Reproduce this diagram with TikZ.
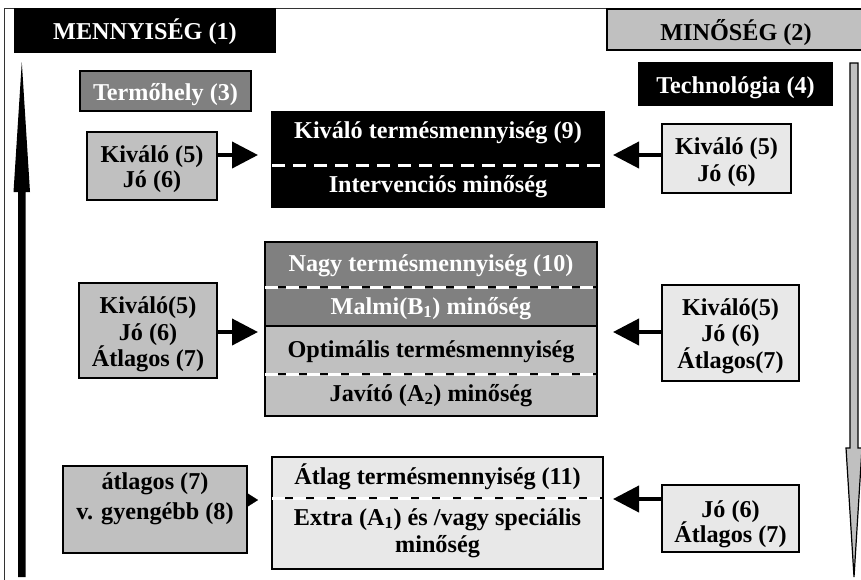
\documentclass[tikz,border=0pt]{standalone}
\usepackage{fontspec}
\setmainfont{Liberation Serif}
\usetikzlibrary{arrows.meta}
\definecolor{dgray}{HTML}{808080}
\definecolor{mgray}{HTML}{C0C0C0}
\definecolor{lgray}{HTML}{E8E8E8}
\begin{document}
\begin{tikzpicture}[x=1pt,y=-1pt,
  box/.style={draw=black, line width=1.3pt, inner sep=0pt, outer sep=0pt},
  txt/.style={font=\fontsize{24.2}{26}\selectfont\bfseries, inner sep=0pt, anchor=base},
  wtxt/.style={txt, text=white},
  sep/.style={draw=white, line width=3pt, dash pattern=on 13pt off 8pt},
  arr/.style={line width=4pt, -{Triangle[length=26pt,width=26pt]}},
  smallarr/.style={line width=0.1pt, -{Triangle[length=11pt,width=14pt]}},
]
\useasboundingbox (0,0) rectangle (861,579);
\clip (0,0) rectangle (861,579);
\fill[white] (0,0) rectangle (861,579);
% frame
\draw[line width=1.3pt, black!80] (4.5,580) -- (4.5,8.5) -- (862,8.5);

% headers
\node[box, fill=black, minimum width=260pt, minimum height=43pt] (m1) at (145,30.5) {};
\node[wtxt] (m1t) at (145,39) {MENNYISÉG (1)};
\node[box, line width=2pt, fill=mgray, minimum width=259pt, minimum height=41pt] (m2) at (736.5,29.5) {};
\node[txt] (m2t) at (736,40) {MINŐSÉG (2)};
\node[box, fill=dgray, minimum width=171pt, minimum height=40pt] (t3) at (165.5,91) {};
\node[wtxt] (t3t) at (165.5,100) {Termőhely (3)};
\node[box, fill=black, minimum width=193pt, minimum height=42pt] (t4) at (735.5,84) {};
\node[wtxt] (t4t) at (735.5,93) {Technológia (4)};

% vertical arrows
\fill[black] (18,577) -- (18,192) -- (13.5,192) -- (21.8,62) -- (30,192) -- (25.5,192) -- (25.5,577) -- cycle;
\filldraw[fill=mgray, draw=black, line width=1.2pt] (850,63) -- (850,448) -- (846,448) -- (854,577) -- (862,448) -- (858,448) -- (858,63) -- cycle;

% row 1
\node[box, fill=black, minimum width=332pt, minimum height=95pt] (b9) at (438,159.5) {};
\node[wtxt] (b9a) at (438,138) {Kiváló termésmennyiség (9)};
\node[wtxt] (b9b) at (438,192) {Intervenciós minőség};
\coordinate (d1) at (0,165);
\draw[sep] (b9.west |- d1) -- (b9.east |- d1);
\node[box, fill=mgray, minimum width=130pt, minimum height=68pt] (lb1) at (152,166) {};
\node[txt] (lb1a) at (152,162) {Kiváló (5)};
\node[txt] (lb1b) at (152,187) {Jó (6)};
\node[box, fill=lgray, minimum width=129pt, minimum height=69pt] (rb1) at (726.5,158.5) {};
\node[txt] (rb1a) at (726.5,154) {Kiváló (5)};
\node[txt] (rb1b) at (726.5,181) {Jó (6)};
\coordinate (a1) at (0,155);
\draw[arr, shorten >=14pt] (lb1.east |- a1) -- (b9.west |- a1);
\draw[arr, shorten >=9pt] (rb1.west |- a1) -- (b9.east |- a1);

% row 2
\node[box, fill=dgray, minimum width=332pt, minimum height=45pt] (n10) at (431,264.5) {};
\node[wtxt] (n10t) at (431,271) {Nagy termésmennyiség (10)};
\node[box, fill=dgray, minimum width=332pt, minimum height=39pt] (nm) at (431,306.5) {};
\node[wtxt] (nmt) at (431,314) {Malmi(B\textsubscript{1}) minőség};
\node[box, fill=mgray, minimum width=332pt, minimum height=48pt] (no) at (431,350) {};
\node[txt] (not) at (431,357) {Optimális termésmennyiség};
\node[box, fill=mgray, minimum width=332pt, minimum height=42pt] (nj) at (431,395) {};
\node[txt] (njt) at (431,401) {Javító (A\textsubscript{2}) minőség};
\draw[sep] (n10.south west) -- (n10.south east);
\draw[sep] (no.south west) -- (no.south east);
\node[box, fill=mgray, minimum width=138pt, minimum height=95pt] (lb2) at (148,330.5) {};
\node[txt] (lb2a) at (148,313) {Kiváló(5)};
\node[txt] (lb2b) at (148,340) {Jó (6)};
\node[txt] (lb2c) at (148,366) {Átlagos (7)};
\node[box, fill=lgray, minimum width=137pt, minimum height=96pt] (rb2) at (730.5,333) {};
\node[txt] (rb2a) at (730.5,315) {Kiváló(5)};
\node[txt] (rb2b) at (730.5,341) {Jó (6)};
\node[txt] (rb2c) at (730.5,368) {Átlagos(7)};
\coordinate (a2) at (0,332);
\draw[arr, shorten >=7pt] (lb2.east |- a2) -- (no.west |- a2);
\draw[arr, shorten >=16pt] (rb2.west |- a2) -- (no.east |- a2);

% row 3
\node[box, fill=lgray, minimum width=331pt, minimum height=41pt] (b11) at (437.5,477.5) {};
\node[txt] (b11t) at (437.5,484) {Átlag termésmennyiség (11)};
\node[box, fill=lgray, minimum width=331pt, minimum height=71pt] (bx) at (437.5,533.5) {};
\node[txt] (bxa) at (437.5,525) {Extra (A\textsubscript{1}) és /vagy speciális};
\node[txt] (bxb) at (437.5,552) {minőség};
\draw[sep] (b11.south west) -- (b11.south east);
\node[box, fill=mgray, minimum width=184pt, minimum height=87pt] (lb3) at (155,509.5) {};
\node[txt] (lb3a) at (155,489) {átlagos (7)};
\node[txt] (lb3b) at (155,519) {v. gyengébb (8)};
\node[box, fill=lgray, minimum width=137pt, minimum height=67pt] (rb3) at (730.5,518.5) {};
\node[txt] (rb3a) at (730.5,517) {Jó (6)};
\node[txt] (rb3b) at (730.5,542) {Átlagos (7)};
\coordinate (a3) at (0,500);
\coordinate (a3r) at (0,499);
\draw[smallarr, shorten >=14pt] (lb3.east |- a3) -- (b11.west |- a3);
\draw[arr, shorten >=10pt] (rb3.west |- a3r) -- (bx.east |- a3r);
\end{tikzpicture}
\end{document}
